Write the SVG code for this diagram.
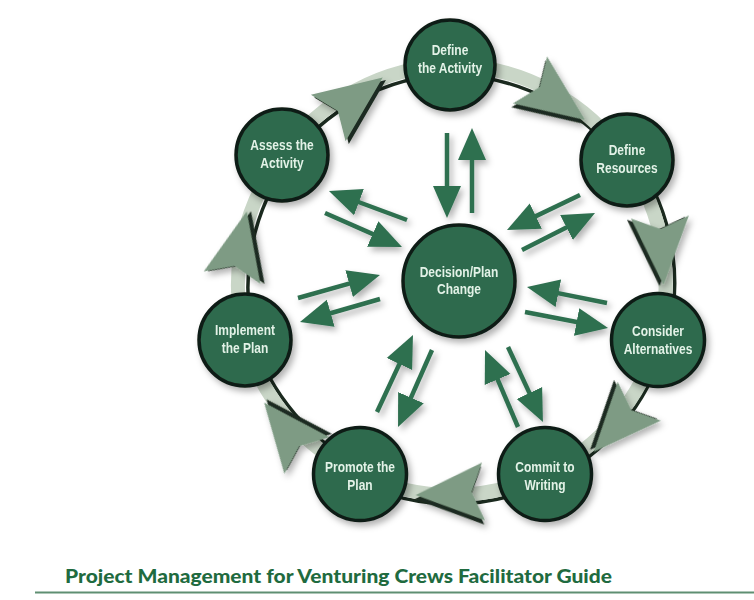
<svg xmlns="http://www.w3.org/2000/svg" xmlns:xlink="http://www.w3.org/1999/xlink" width="754" height="600" viewBox="0 0 754 600">
<style>
.node circle{fill:#2d6a4d;stroke:#111b15;stroke-width:3.5}
.node text{font-family:"Liberation Sans",Arial,sans-serif;font-weight:bold;font-size:15px;fill:#e3f2e7;text-anchor:middle}
.band{fill:none;stroke:#c9d6c7;stroke-width:14}
.dk{fill:none;stroke:#1b2a1f;stroke-width:3.5}
.arr{stroke:#2f6f50;stroke-width:4.5;fill:none;marker-end:url(#ah)}
.dartf{fill:#7e9b84}
.dartsh{fill:#1d2b20}
.footer{font-family:Lato,"Open Sans","Liberation Sans",sans-serif;font-weight:900;font-size:18px;fill:#1f6b3f}
</style>
<defs>
<filter id="sh" x="-30%" y="-30%" width="160%" height="160%">
<feDropShadow dx="3" dy="4" stdDeviation="3" flood-color="#000" flood-opacity="0.3"/>
</filter>
<marker id="ah" markerUnits="userSpaceOnUse" markerWidth="32" markerHeight="30" viewBox="0 -15 32 30" refX="12" refY="0" orient="auto">
<path d="M0,-14 L32,0 L0,14 Z" fill="#2f6f50"/>
</marker>
<g id="dart">
<path class="dartsh" d="M35,4 L-33,33 L-21,4 L-33,-25 Z"/>
<path class="dartf" d="M34,0 L-34,29 L-22,0 L-34,-29 Z"/>
</g>
</defs>
<rect width="754" height="600" fill="#ffffff"/>
<g id="connectors">
<g id="ring">
<path class="dk" d="M282,155 A215,215 0 0 1 450,65" transform="translate(3,9)"/>
<path class="dk" d="M450,65 A215,215 0 0 1 627,160" transform="translate(0,10)"/>
<path class="dk" d="M627,160 A215,215 0 0 1 658,340" transform="translate(9,0)"/>
<path class="dk" d="M658,340 A215,215 0 0 1 545,474" transform="translate(6,6)"/>
<path class="dk" d="M545,474 A215,215 0 0 1 360,474" transform="translate(0,9)"/>
<path class="dk" d="M360,474 A215,215 0 0 1 245,340" transform="translate(7,-5)"/>
<path class="dk" d="M245,340 A215,215 0 0 1 282,155" transform="translate(10,2)"/>
<path class="band" d="M450,65 A215,215 0 0 1 627,160 A215,215 0 0 1 658,340 A215,215 0 0 1 545,474 A215,215 0 0 1 360,474 A215,215 0 0 1 245,340 A215,215 0 0 1 282,155 A215,215 0 0 1 450,65 Z"/>
</g>
<g id="darts" filter="url(#sh)">
<use xlink:href="#dart" transform="translate(355.5,97.8) rotate(-36.7)"/>
<use xlink:href="#dart" transform="translate(557.5,100) rotate(36)"/>
<use xlink:href="#dart" transform="translate(661.7,251) rotate(87)"/>
<use xlink:href="#dart" transform="translate(616.5,426.5) rotate(132)"/>
<use xlink:href="#dart" transform="translate(449.6,493.3) rotate(177) scale(1,-1)"/>
<use xlink:href="#dart" transform="translate(285.5,429) rotate(231)"/>
<use xlink:href="#dart" transform="translate(239.5,244.5) rotate(-77.5)"/>
</g>
<g id="spokes" filter="url(#sh)">
<path class="arr" d="M447,133 L447,198"/>
<path class="arr" d="M472,213 L472,148"/>
<path class="arr" d="M407,220 L347.7,198"/>
<path class="arr" d="M325,213 L383.7,238.9"/>
<path class="arr" d="M580,195 L525,221.4"/>
<path class="arr" d="M522,250 L577.2,222"/>
<path class="arr" d="M298,298 L360.7,280.4"/>
<path class="arr" d="M380,299 L319.2,316.5"/>
<path class="arr" d="M607,303 L546.6,290.9"/>
<path class="arr" d="M525,312 L588.4,324.2"/>
<path class="arr" d="M377,412 L404.5,353.1"/>
<path class="arr" d="M432,350 L406.1,408.7"/>
<path class="arr" d="M518,427 L492.9,368.4"/>
<path class="arr" d="M508,347 L534.5,403.9"/>
</g>
</g>
<g id="n-define-activity" class="node" filter="url(#sh)">
<circle cx="450" cy="65" r="45"/>
<g transform="translate(450,0) scale(0.8,1)"><text x="0" y="55">Define</text><text x="0" y="73">the Activity</text></g>
</g>
<g id="n-define-resources" class="node" filter="url(#sh)">
<circle cx="627" cy="160" r="46"/>
<g transform="translate(627,0) scale(0.8,1)"><text x="0" y="155">Define</text><text x="0" y="173">Resources</text></g>
</g>
<g id="n-consider" class="node" filter="url(#sh)">
<circle cx="658" cy="340" r="46.5"/>
<g transform="translate(658,0) scale(0.8,1)"><text x="0" y="336">Consider</text><text x="0" y="354">Alternatives</text></g>
</g>
<g id="n-commit" class="node" filter="url(#sh)">
<circle cx="545" cy="474" r="46.5"/>
<g transform="translate(545,0) scale(0.8,1)"><text x="0" y="472">Commit to</text><text x="0" y="490">Writing</text></g>
</g>
<g id="n-promote" class="node" filter="url(#sh)">
<circle cx="360" cy="474" r="46.5"/>
<g transform="translate(360,0) scale(0.8,1)"><text x="0" y="472">Promote the</text><text x="0" y="490">Plan</text></g>
</g>
<g id="n-implement" class="node" filter="url(#sh)">
<circle cx="245" cy="340" r="46"/>
<g transform="translate(245,0) scale(0.8,1)"><text x="0" y="335">Implement</text><text x="0" y="353">the Plan</text></g>
</g>
<g id="n-assess" class="node" filter="url(#sh)">
<circle cx="282" cy="155" r="46"/>
<g transform="translate(282,0) scale(0.8,1)"><text x="0" y="150">Assess the</text><text x="0" y="168">Activity</text></g>
</g>
<g id="n-decision" class="node" filter="url(#sh)">
<circle cx="459" cy="281" r="56"/>
<g transform="translate(459,0) scale(0.8,1)"><text x="0" y="277">Decision/Plan</text><text x="0" y="294">Change</text></g>
</g>
<g id="footer">
<text class="footer" x="65" y="583" textLength="547" lengthAdjust="spacingAndGlyphs">Project Management for Venturing Crews Facilitator Guide</text>
<line x1="35" y1="592.5" x2="754" y2="592.5" stroke="#5f8f72" stroke-width="2"/>
</g>
</svg>
